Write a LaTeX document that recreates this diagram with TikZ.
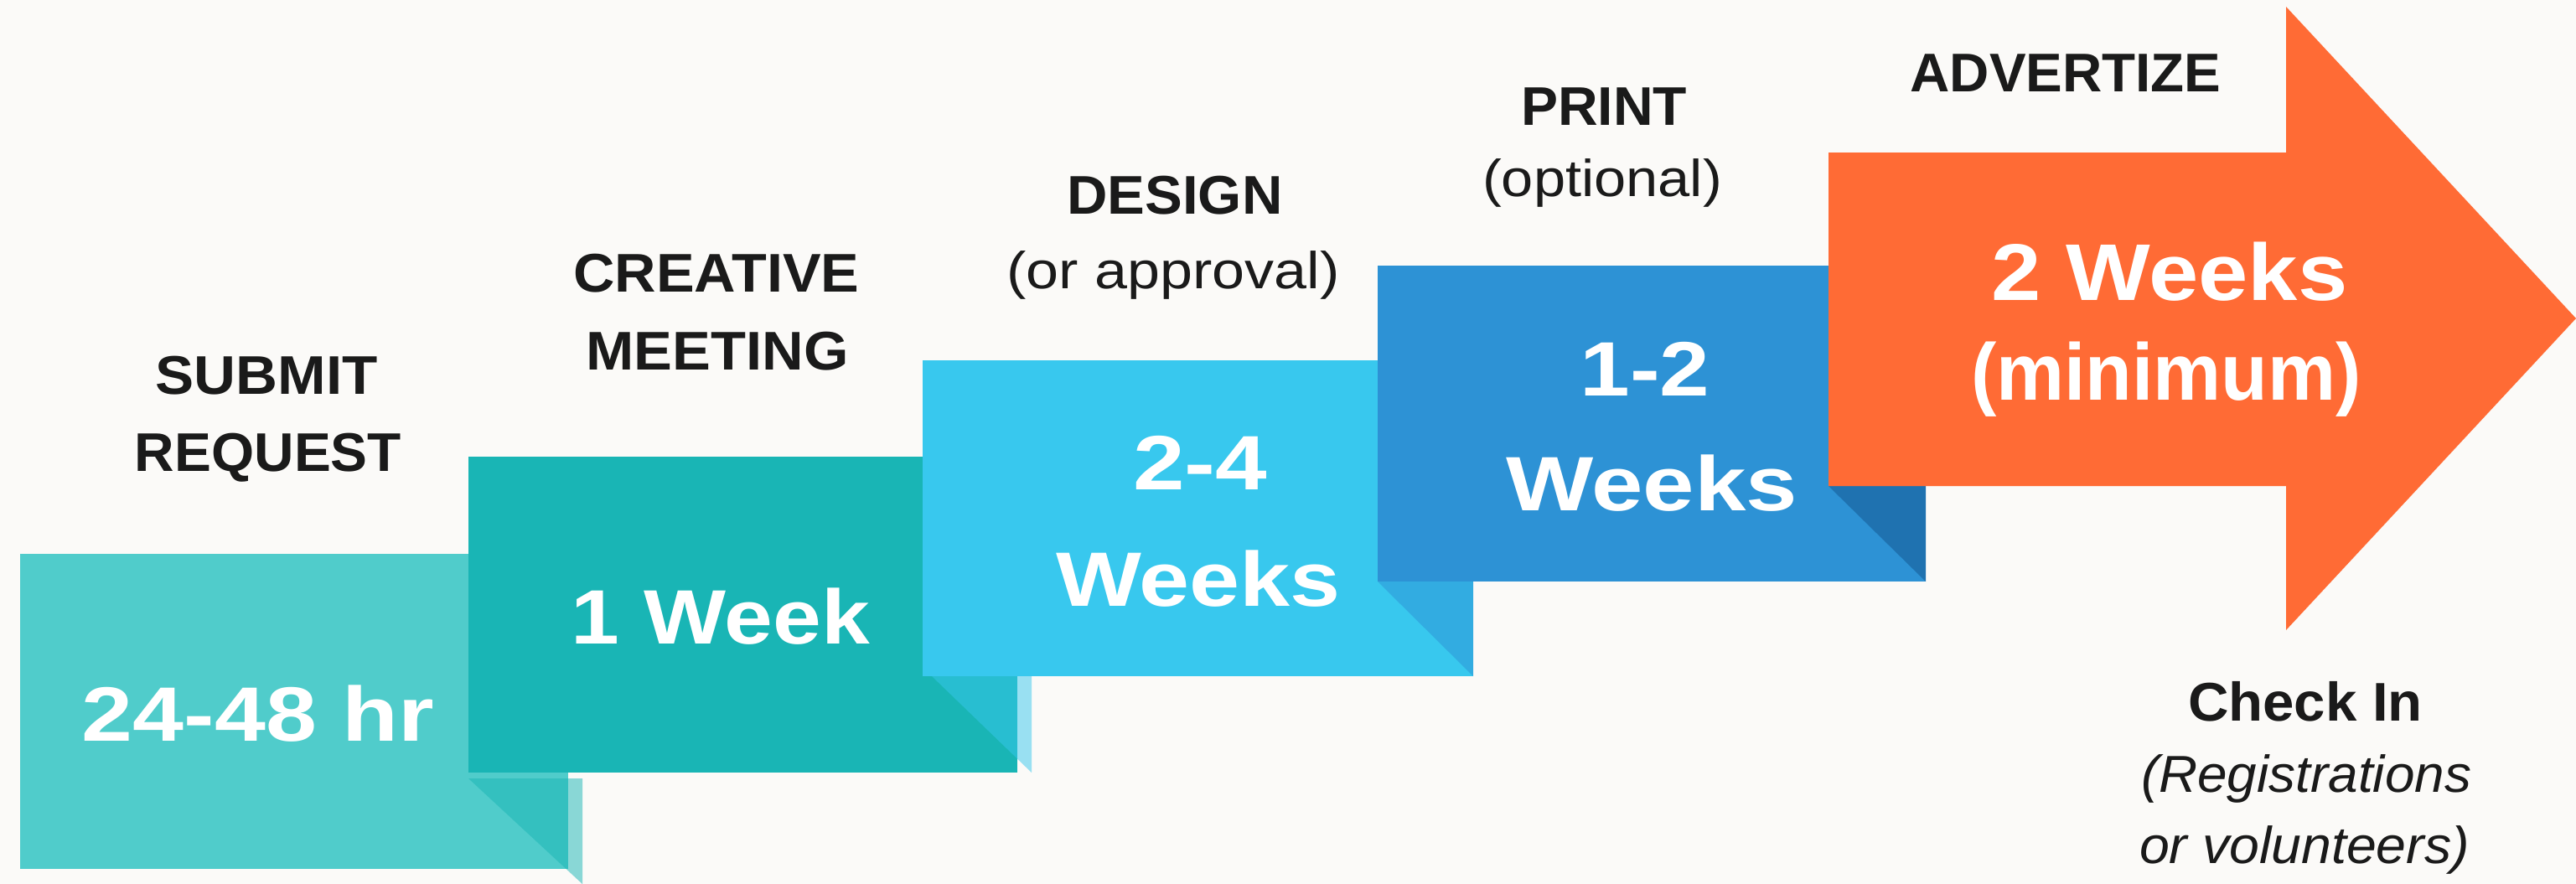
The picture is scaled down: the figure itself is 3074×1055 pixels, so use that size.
\documentclass[tikz,border=0pt]{standalone}
\usepackage{fontspec}
\usepackage{graphicx}
\setmainfont{Liberation Sans}
\definecolor{bg}{HTML}{FBFAF8}
\definecolor{ink}{HTML}{1A1A1A}
\definecolor{cone}{HTML}{50CCCB}
\definecolor{ctwo}{HTML}{19B5B5}
\definecolor{cthree}{HTML}{38C8EE}
\definecolor{cfour}{HTML}{2D92D5}
\definecolor{cfourdark}{HTML}{1F72B0}
\definecolor{cfive}{HTML}{FF6B35}
\newcommand{\fitw}[2]{\resizebox{#1pt}{\height}{#2}}
\tikzset{
  boxtxt/.style={text=white, font=\fontsize{92}{92}\selectfont\bfseries, anchor=base, inner sep=0pt},
  arrtxt/.style={text=white, font=\fontsize{96}{96}\selectfont\bfseries, anchor=base, inner sep=0pt},
  headtxt/.style={text=ink, font=\fontsize{65}{65}\selectfont\bfseries, anchor=base, inner sep=0pt},
  subtxt/.style={text=ink, font=\fontsize{62}{62}\selectfont, anchor=base, inner sep=0pt},
  itxt/.style={text=ink, font=\fontsize{62}{62}\selectfont\itshape, anchor=base, inner sep=0pt},
}
\begin{document}
\begin{tikzpicture}[x=1pt,y=-1pt]
\useasboundingbox (0,0) rectangle (3074,1055);
\fill[bg] (0,0) rectangle (3074,1055);
% step boxes and folds
\fill[cone] (24,661) rectangle (678,1037);
\fill[ctwo, opacity=.5] (559,929) -- (695,929) -- (695,1055) -- cycle;
\fill[ctwo] (559,545) rectangle (1214,922);
\fill[cthree, opacity=.5] (1112,807) -- (1231,807) -- (1231,922) -- cycle;
\fill[cthree] (1101,430) rectangle (1758,807);
\fill[cfour, opacity=.5] (1644,694) -- (1758,694) -- (1758,807) -- cycle;
\fill[cfour] (1644,317) rectangle (2298,694);
\fill[cfourdark] (2182,580) -- (2298,580) -- (2298,694) -- cycle;
\fill[cfive] (2182,182) -- (2728,182) -- (2728,8) -- (3074,380) -- (2728,752) -- (2728,580) -- (2182,580) -- cycle;
% box texts
\node[boxtxt] (t1) at (308,884) {\fitw{420}{24-48 hr}};
\node[boxtxt] (t2) at (860,768) {\fitw{356}{1 Week}};
\node[boxtxt] (t3a) at (1432,584) {\fitw{160}{2-4}};
\node[boxtxt] (t3b) at (1430,723) {\fitw{340}{Weeks}};
\node[boxtxt] (t4a) at (1963,472) {\fitw{155}{1-2}};
\node[boxtxt] (t4b) at (1971,609) {\fitw{348}{Weeks}};
\node[arrtxt] (t5a) at (2589,358) {\fitw{425}{2 Weeks}};
\node[arrtxt] (t5b) at (2585,477) {\fitw{466}{(minimum)}};
% headings
\node[headtxt] (h1a) at (318,470) {\fitw{265}{SUBMIT}};
\node[headtxt] (h1b) at (320,562) {\fitw{318}{REQUEST}};
\node[headtxt] (h2a) at (855,348) {\fitw{341}{CREATIVE}};
\node[headtxt] (h2b) at (856,441) {\fitw{313}{MEETING}};
\node[headtxt] (h3a) at (1402,255) {\fitw{257}{DESIGN}};
\node[subtxt] (h3b) at (1400,344) {\fitw{397}{(or approval)}};
\node[headtxt] (h4a) at (1914,149) {\fitw{198}{PRINT}};
\node[subtxt] (h4b) at (1912,234) {\fitw{286}{(optional)}};
\node[headtxt] (h5) at (2465,109) {\fitw{371}{ADVERTIZE}};
\node[headtxt] (c1) at (2751,860) {\fitw{280}{Check In}};
\node[itxt] (c2) at (2752,945) {\fitw{394}{(Registrations}};
\node[itxt] (c3) at (2750,1030) {\fitw{394}{or volunteers)}};
\end{tikzpicture}
\end{document}
